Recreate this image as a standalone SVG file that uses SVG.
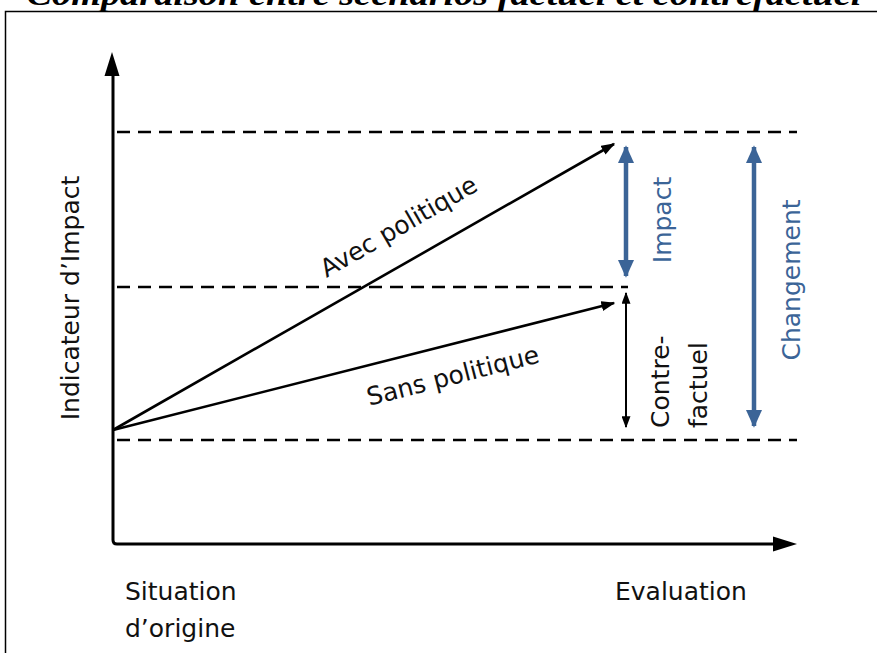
<svg xmlns="http://www.w3.org/2000/svg" width="877" height="653" viewBox="0 0 877 653">
<defs>
<style>
.t{font-family:"DejaVu Sans","Liberation Sans",sans-serif;font-size:25px;fill:#111}
.b{fill:#3b6497}
.dash{stroke:#000;stroke-width:2.6;stroke-dasharray:13 8;fill:none}
.ax{stroke:#000;stroke-width:3;fill:none}
.ln{stroke:#000;stroke-width:2.6;fill:none}
.blue{stroke:#3b6497;stroke-width:4.5;fill:none}
.thin{stroke:#000;stroke-width:2;fill:none}
</style>
<marker id="ah" viewBox="0 0 10 10" refX="9" refY="5" markerWidth="14" markerHeight="10" markerUnits="userSpaceOnUse" orient="auto" preserveAspectRatio="none"><path d="M0,0 L10,5 L0,10 z" fill="#000"/></marker>
<marker id="bh" viewBox="0 0 10 10" refX="9" refY="5" markerWidth="4" markerHeight="3.6" orient="auto-start-reverse" preserveAspectRatio="none"><path d="M0,0 L10,5 L0,10 z" fill="#3b6497"/></marker>
<marker id="kh" viewBox="0 0 10 10" refX="9" refY="5" markerWidth="6" markerHeight="4.5" orient="auto-start-reverse" preserveAspectRatio="none"><path d="M0,0 L10,5 L0,10 z" fill="#000"/></marker>
</defs>
<rect width="877" height="653" fill="#fff"/>
<path d="M5.5,653 V11.5 H877" fill="none" stroke="#000" stroke-width="1.5"/>
<text x="444" y="5" text-anchor="middle" textLength="835" lengthAdjust="spacingAndGlyphs" font-family="Liberation Serif,serif" font-weight="bold" font-style="italic" font-size="32">Comparaison entre scénarios factuel et contrefactuel</text>

<g id="connectors">
<path class="dash" d="M117,132 H797"/>
<path class="dash" d="M117,287 H628"/>
<path class="dash" d="M117,440 H797"/>
<path class="ln" d="M113,430 L614,144" marker-end="url(#ah)"/>
<path class="ln" d="M113,430 L614,303" marker-end="url(#ah)"/>
<path class="blue" d="M626,147 V276" marker-start="url(#bh)" marker-end="url(#bh)"/>
<path class="blue" d="M754,147 V426" marker-start="url(#bh)" marker-end="url(#bh)"/>
<path class="thin" d="M626,293 V427" marker-start="url(#kh)" marker-end="url(#kh)"/>
</g>

<g id="axes">
<path d="M113,70 V540 Q113,544 117,544 H786" class="ax"/>
<path d="M112,52 L104.5,76 H119.5 z" fill="#000"/>
<path d="M797,544 L773,536.5 V551.5 z" fill="#000"/>
</g>

<g id="y-label"><text class="t" transform="translate(79,298) rotate(-90)" text-anchor="middle">Indicateur d’Impact</text></g>
<g id="avec"><text class="t" transform="translate(403,234) rotate(-30)" text-anchor="middle">Avec politique</text></g>
<g id="sans"><text class="t" transform="translate(455,384) rotate(-14.3)" text-anchor="middle">Sans politique</text></g>
<g id="impact"><text class="t b" transform="translate(671,220) rotate(-90)" text-anchor="middle">Impact</text></g>
<g id="changement"><text class="t b" transform="translate(800,280) rotate(-90)" text-anchor="middle">Changement</text></g>
<g id="contrefactuel"><text class="t" transform="translate(669,428) rotate(-90)">Contre-</text><text class="t" transform="translate(707,428) rotate(-90)">factuel</text></g>
<g id="origine"><text class="t" x="125" y="600">Situation</text><text class="t" x="125" y="637">d’origine</text></g>
<g id="evaluation"><text class="t" x="615" y="600">Evaluation</text></g>
</svg>
